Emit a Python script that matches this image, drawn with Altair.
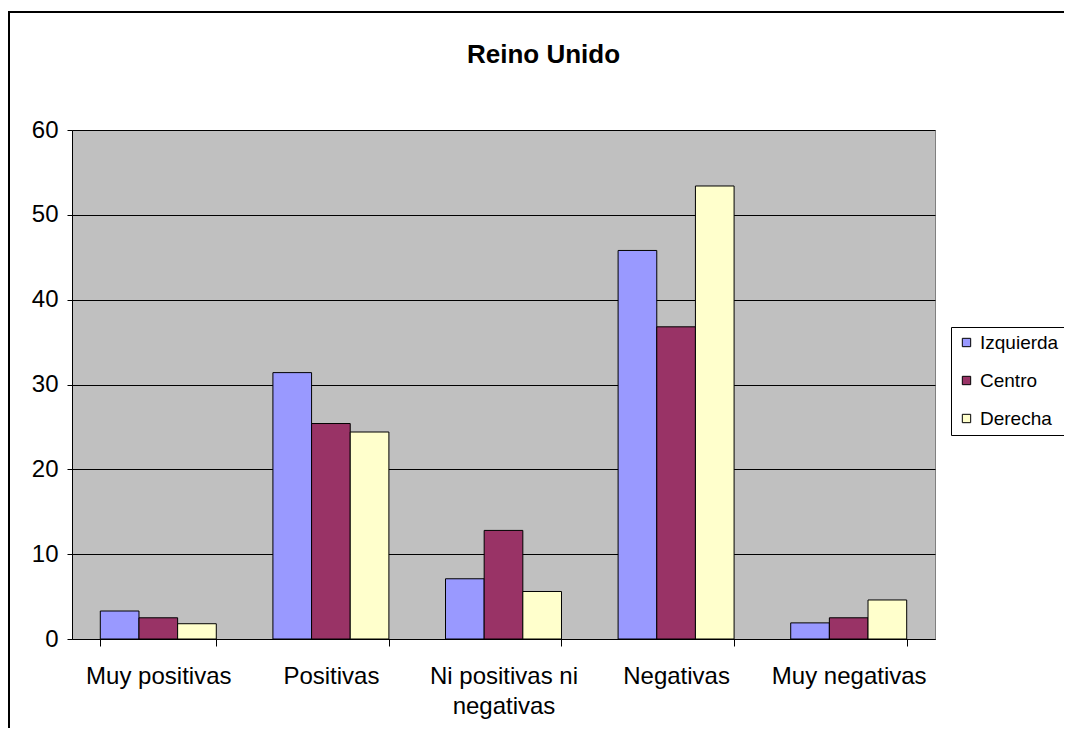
import altair as alt
import pandas as pd

categories = ["Muy positivas", "Positivas", "Ni positivas ni negativas", "Negativas", "Muy negativas"]
series = ["Izquierda", "Centro", "Derecha"]
izquierda = [3.3, 31.4, 7.1, 45.8, 1.9]
centro = [2.5, 25.4, 12.8, 36.8, 2.5]
derecha = [1.8, 24.4, 5.6, 53.4, 4.6]
colors = ["#9999FF", "#993366", "#FFFFCC"]

rows = []
for i, c in enumerate(categories):
    for s, vals in zip(series, [izquierda, centro, derecha]):
        rows.append({"cat": c, "serie": s, "valor": vals[i]})
df = pd.DataFrame(rows)

FONT = "Liberation Sans"

bars = alt.Chart(df).mark_bar(stroke="black", strokeWidth=1).encode(
    x=alt.X("cat:N", sort=categories, title=None,
            scale=alt.Scale(paddingInner=0.328, paddingOuter=0.164),
            axis=alt.Axis(labelAngle=0, tickBand="extent", labelFontSize=24,
                          labelFont=FONT, labelColor="black", domainColor="black",
                          tickColor="black", tickSize=7, labelPadding=18,
                          labelLineHeight=30, labelLimit=300,
                          labelExpr="datum.label == 'Ni positivas ni negativas' ? ['Ni positivas ni', 'negativas'] : datum.label")),
    xOffset=alt.XOffset("serie:N", sort=series),
    y=alt.Y("valor:Q", title=None,
            scale=alt.Scale(domain=[0, 60]),
            axis=alt.Axis(values=[0, 10, 20, 30, 40, 50, 60], labelFontSize=24,
                          labelFont=FONT, labelColor="black", domainColor="black",
                          tickColor="black", tickSize=5, labelPadding=9,
                          grid=True, gridColor="black", gridWidth=1)),
    color=alt.Color("serie:N", sort=series,
                    scale=alt.Scale(domain=series, range=colors),
                    legend=alt.Legend(title=None, orient="none", legendX=879, legendY=197,
                                      symbolType="square", symbolSize=70,
                                      symbolStrokeColor="black", symbolStrokeWidth=1,
                                      labelFontSize=19, labelFont=FONT, labelColor="black",
                                      labelOffset=4, rowPadding=18, padding=6,
                                      strokeColor="black", fillColor="white")),
)

border = alt.Chart(pd.DataFrame({"a": [0]})).mark_rect(
    fill="transparent", stroke="black", strokeWidth=2
).encode(
    x=alt.value(-63), x2=alt.value(1200), y=alt.value(-118), y2=alt.value(800)
)

chart = alt.layer(bars, border).properties(
    width=863, height=509,
    background="white",
    autosize=alt.AutoSizeParams(type="none"),
    padding={"left": 64, "top": 122, "right": 129, "bottom": 89},
    title=alt.TitleParams("Reino Unido", font=FONT, fontSize=26, fontWeight="bold",
                          color="black", anchor="middle", frame="group", dx=40,
                          offset=-78, baseline="alphabetic"),
).configure_view(
    fill="#C0C0C0", stroke="#808080", strokeWidth=1
)

chart.save("out.html", embed_options={"renderer": "svg", "actions": False})
